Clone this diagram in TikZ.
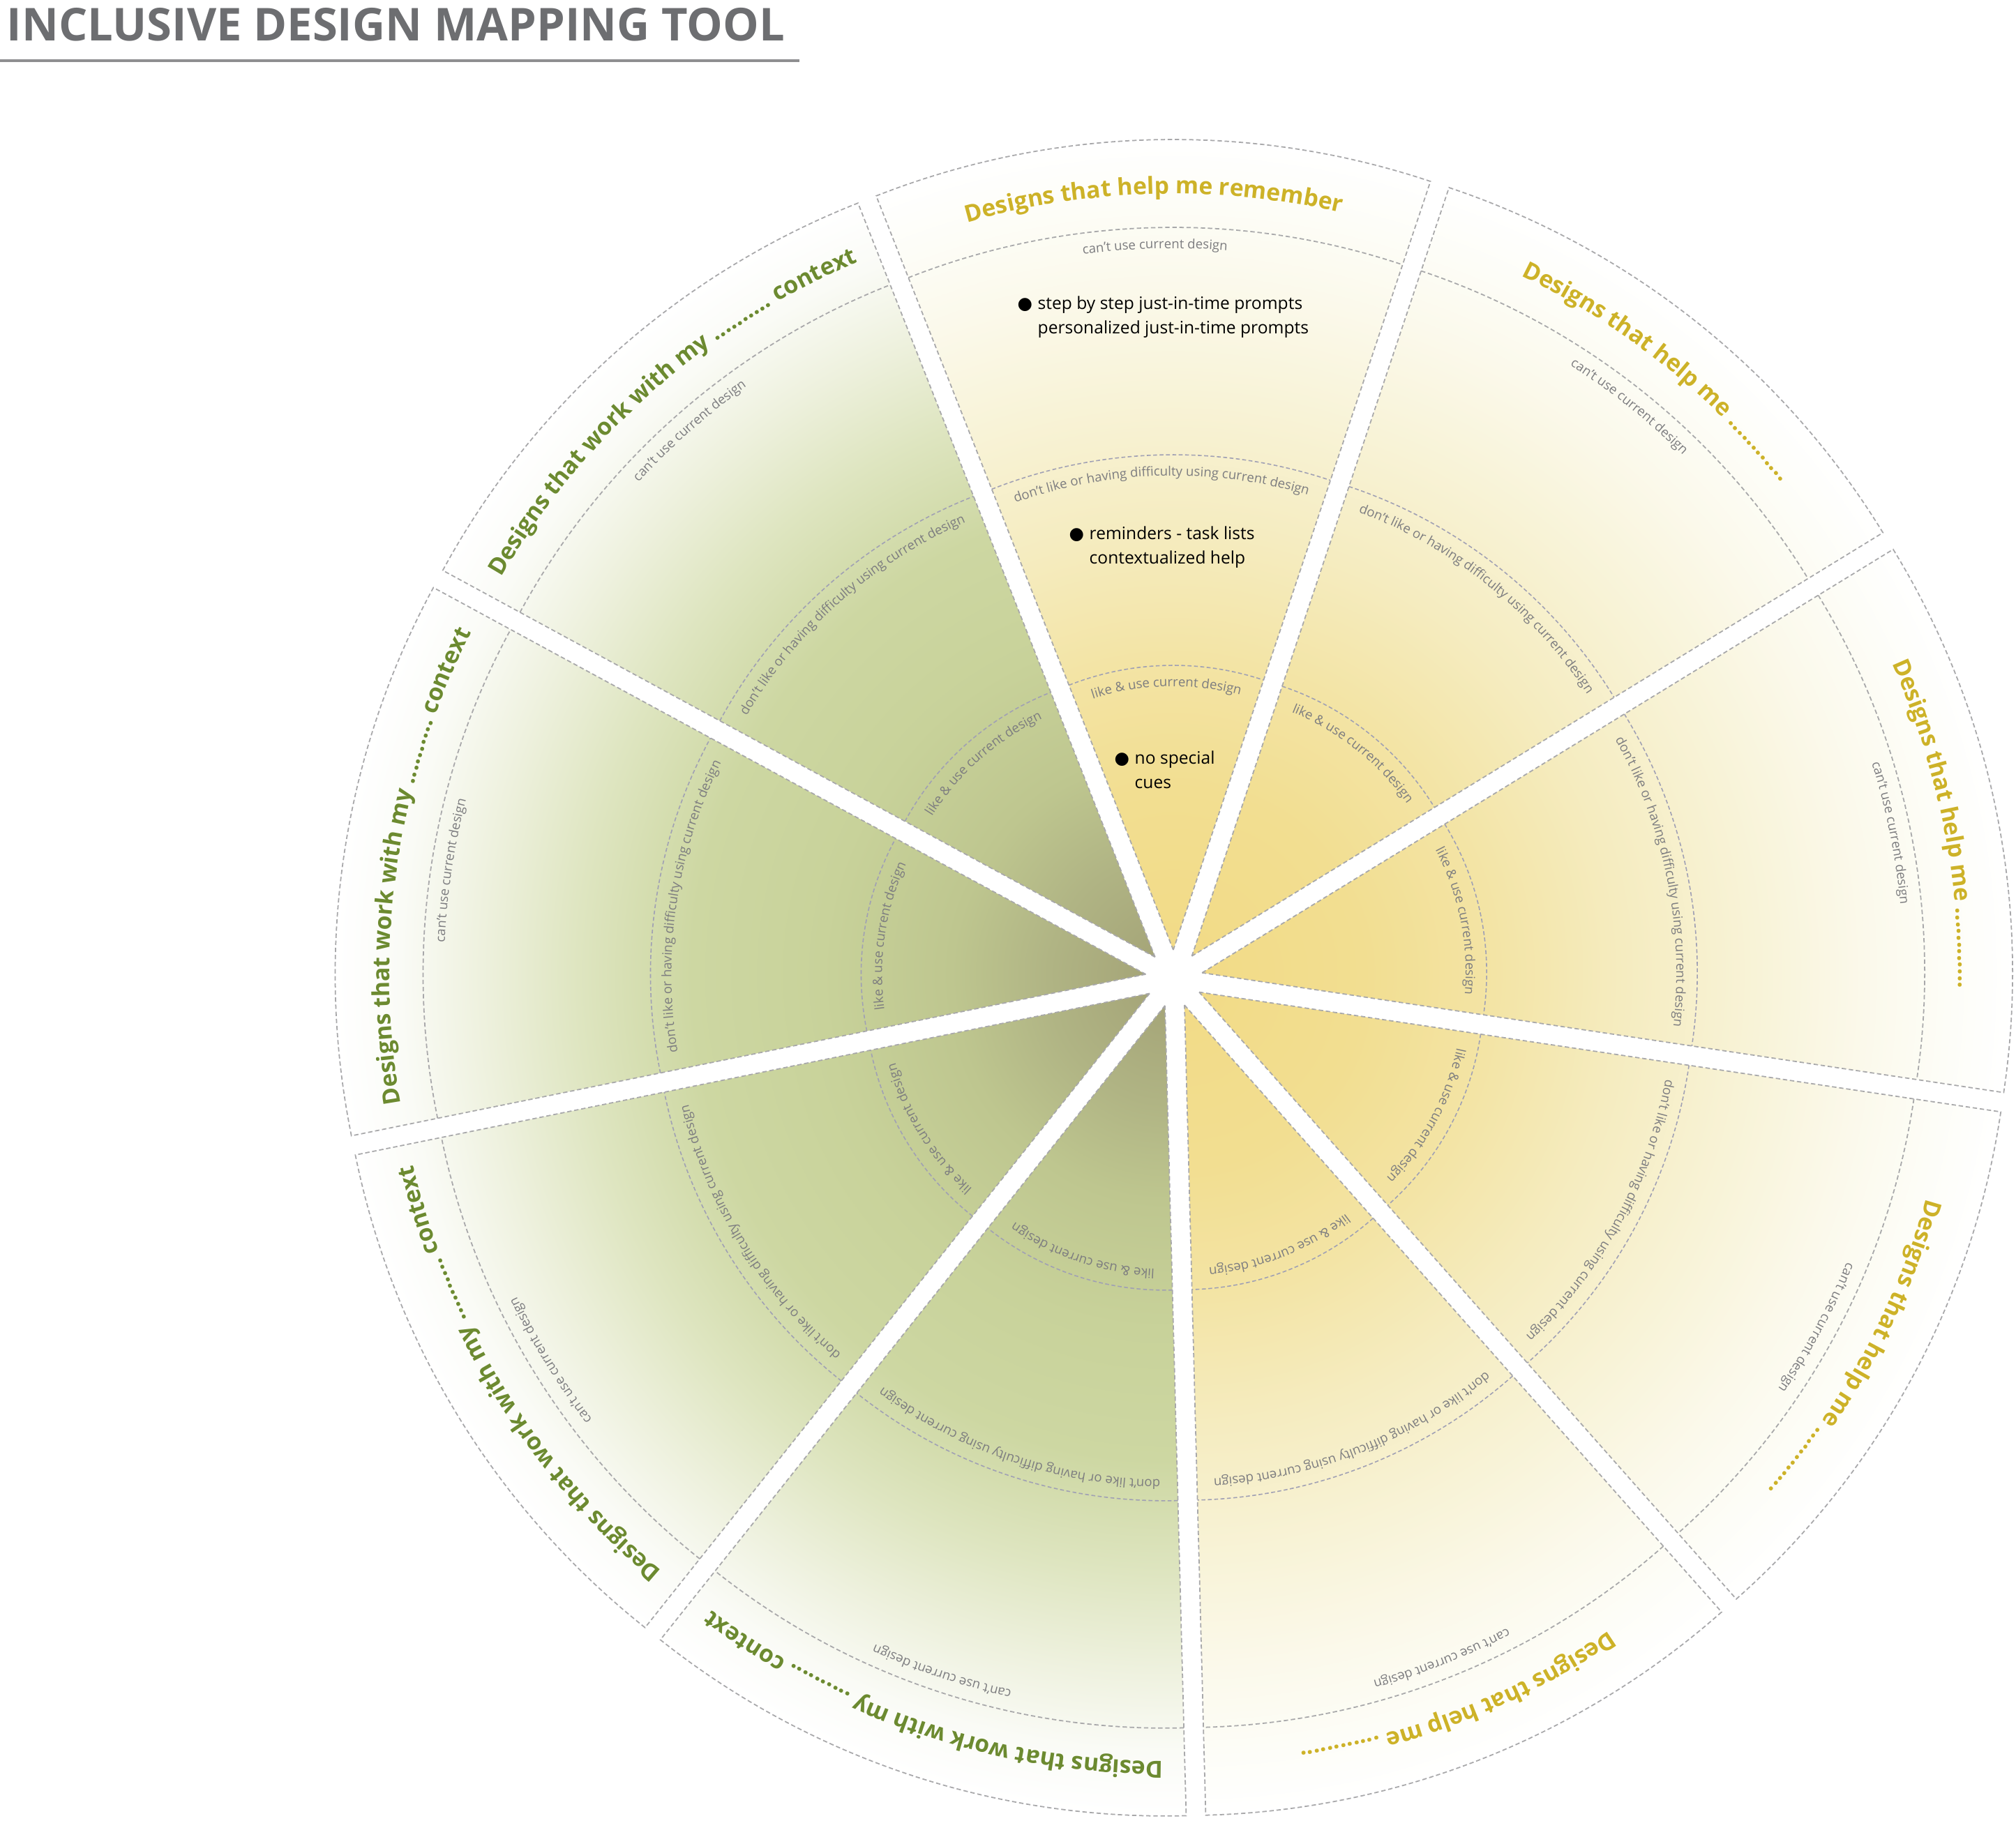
\documentclass[tikz,border=0pt]{standalone}
\usepackage{fontspec}
\setmainfont{Open Sans}
\newfontfamily\dotfont{DejaVu Sans}
\usetikzlibrary{decorations.text}

\definecolor{headgray}{RGB}{109,110,113}
\definecolor{rulegray}{RGB}{142,142,144}
\definecolor{outlinegray}{RGB}{168,168,170}
\definecolor{ringgray}{RGB}{160,160,180}
\definecolor{labelgray}{RGB}{125,125,128}
\definecolor{helpgold}{RGB}{205,178,40}
\definecolor{contextgreen}{RGB}{108,138,48}
% yellow wedges
\definecolor{ycore}{RGB}{242,219,135}
\definecolor{yringA}{RGB}{242,222,145}
\definecolor{yringB}{RGB}{243,228,165}
\definecolor{yringC}{RGB}{245,236,192}
\definecolor{yringD}{RGB}{248,243,215}
\definecolor{yringE}{RGB}{251,249,235}
\definecolor{yringF}{RGB}{253,253,247}
% green wedges
\definecolor{gcore}{RGB}{165,165,120}
\definecolor{gringA}{RGB}{176,180,132}
\definecolor{gringB}{RGB}{190,198,143}
\definecolor{gringC}{RGB}{200,210,154}
\definecolor{gringD}{RGB}{205,215,162}
\definecolor{gringE}{RGB}{222,229,192}
\definecolor{gringF}{RGB}{238,241,222}
\definecolor{gringG}{RGB}{250,251,246}

% 25bp is the rim of the wedge
\pgfdeclareradialshading{yellowglow}{\pgfpoint{0cm}{0cm}}{%
  color(0bp)=(ycore); color(5bp)=(yringA); color(9bp)=(yringB);
  color(13bp)=(yringC); color(17bp)=(yringD); color(20.5bp)=(yringE);
  color(23bp)=(yringF); color(25bp)=(white); color(50bp)=(white)}
\pgfdeclareradialshading{greenglow}{\pgfpoint{0cm}{0cm}}{%
  color(0bp)=(gcore); color(3bp)=(gringA); color(6bp)=(gringB);
  color(10bp)=(gringC); color(14bp)=(gringD); color(17.5bp)=(gringE);
  color(20.5bp)=(gringF); color(23bp)=(gringG); color(25bp)=(white); color(50bp)=(white)}

\newcommand\headfont{\fontsize{18.5}{20}\selectfont\bfseries}
\newcommand\sectorfont{\fontsize{9.6}{11}\selectfont\bfseries}
\newcommand\ringfont{\fontsize{5.3}{6}\selectfont}
\newcommand\bodyfont{\fontsize{7}{9.96}\selectfont}
\newcommand\bulletmark{\llap{{\dotfont ●}\hspace{2.2pt}}}

\newcommand\ringlike{4.08}
\newcommand\ringdislike{7.1}
\newcommand\ringcant{10.36}
\newcommand\ringout{11.62}
\newcommand\titlering{10.84}
\newcommand\apexgap{0.41}

\tikzset{
  sectorline/.style={draw=outlinegray, line width=0.5pt, dash pattern=on 1.8pt off 1.1pt},
  ringline/.style={draw=ringgray, line width=0.45pt, dash pattern=on 1.6pt off 1pt},
  ringlabel/.style={decorate, decoration={text along path, text align=center,
      text={|\ringfont\color{labelgray}|#1}}},
  sectortitle/.style 2 args={decorate, decoration={text along path, text align=center,
      text={|\sectorfont\color{#1}|#2}}},
  bodytext/.style={font=\bodyfont, align=left, inner sep=0pt, anchor=west, text=black},
}

% one wedge of the wheel: #1 bisector, #2 shading, #3 title colour, #4 title
\newcommand\designsector[4]{%
  \begin{scope}[shift={(#1:\apexgap)}]
    \begin{scope}
      \clip (0,0) -- (#1+20:\ringout) arc[start angle=#1+20, end angle=#1-20, radius=\ringout] -- cycle;
      \shade[shading=#2] (0,0) circle (\ringout);
    \end{scope}
    \foreach \ringr in {\ringlike,\ringdislike}
      \draw[ringline] (#1+20:\ringr) arc[start angle=#1+20, end angle=#1-20, radius=\ringr];
    \draw[sectorline] (#1+20:\ringcant) arc[start angle=#1+20, end angle=#1-20, radius=\ringcant];
    \draw[sectorline] (0,0) -- (#1+20:\ringout) arc[start angle=#1+20, end angle=#1-20, radius=\ringout] -- cycle;
    \path[ringlabel={like {\&} use current design}]
      (#1+30:\ringlike-0.3) arc[start angle=#1+30, end angle=#1-30, radius=\ringlike-0.3];
    \path[ringlabel={don’t like or having difficulty using current design}]
      (#1+30:\ringdislike-0.3) arc[start angle=#1+30, end angle=#1-30, radius=\ringdislike-0.3];
    \path[ringlabel={can’t use current design}]
      (#1+30:\ringcant-0.3) arc[start angle=#1+30, end angle=#1-30, radius=\ringcant-0.3];
    \path[sectortitle={#3}{#4}]
      (#1+30:\titlering) arc[start angle=#1+30, end angle=#1-30, radius=\titlering];
  \end{scope}}

\begin{document}
\begin{tikzpicture}
  \useasboundingbox (-16.83,-12.30) rectangle (12.07,14.03);

  % heading
  \node[anchor=base west, inner sep=0pt, font=\headfont, text=headgray] (tool-title) at (-16.74,13.44) {INCLUSIVE DESIGN MAPPING TOOL};
  \coordinate (rule-left) at (-16.83,13.16);
  \coordinate (rule-right) at (-5.37,13.16);
  \draw[rulegray, line width=1.4pt] (rule-left) -- (rule-right);

  % the wheel
  \designsector{91.5}{yellowglow}{helpgold}{Designs that help me remember}
  \designsector{51.5}{yellowglow}{helpgold}{Designs that help me ............}
  \designsector{11.5}{yellowglow}{helpgold}{Designs that help me ............}
  \designsector{-28.5}{yellowglow}{helpgold}{Designs that help me ............}
  \designsector{-68.5}{yellowglow}{helpgold}{Designs that help me ............}
  \designsector{-108.5}{greenglow}{contextgreen}{Designs that work with my .......... context}
  \designsector{-148.5}{greenglow}{contextgreen}{Designs that work with my .......... context}
  \designsector{171.5}{greenglow}{contextgreen}{Designs that work with my .......... context}
  \designsector{131.5}{greenglow}{contextgreen}{Designs that work with my .......... context}

  % entries of the remember wedge
  \node[bodytext] (cue-prompts) at (-1.96,9.485) {\bulletmark step by step just-in-time prompts\\personalized just-in-time prompts};
  \node[bodytext] (cue-reminders) at (-1.22,6.185) {\bulletmark reminders - task lists\\contextualized help};
  \node[bodytext] (cue-none) at (-0.57,2.99) {\bulletmark no special\\cues};
\end{tikzpicture}
\end{document}
